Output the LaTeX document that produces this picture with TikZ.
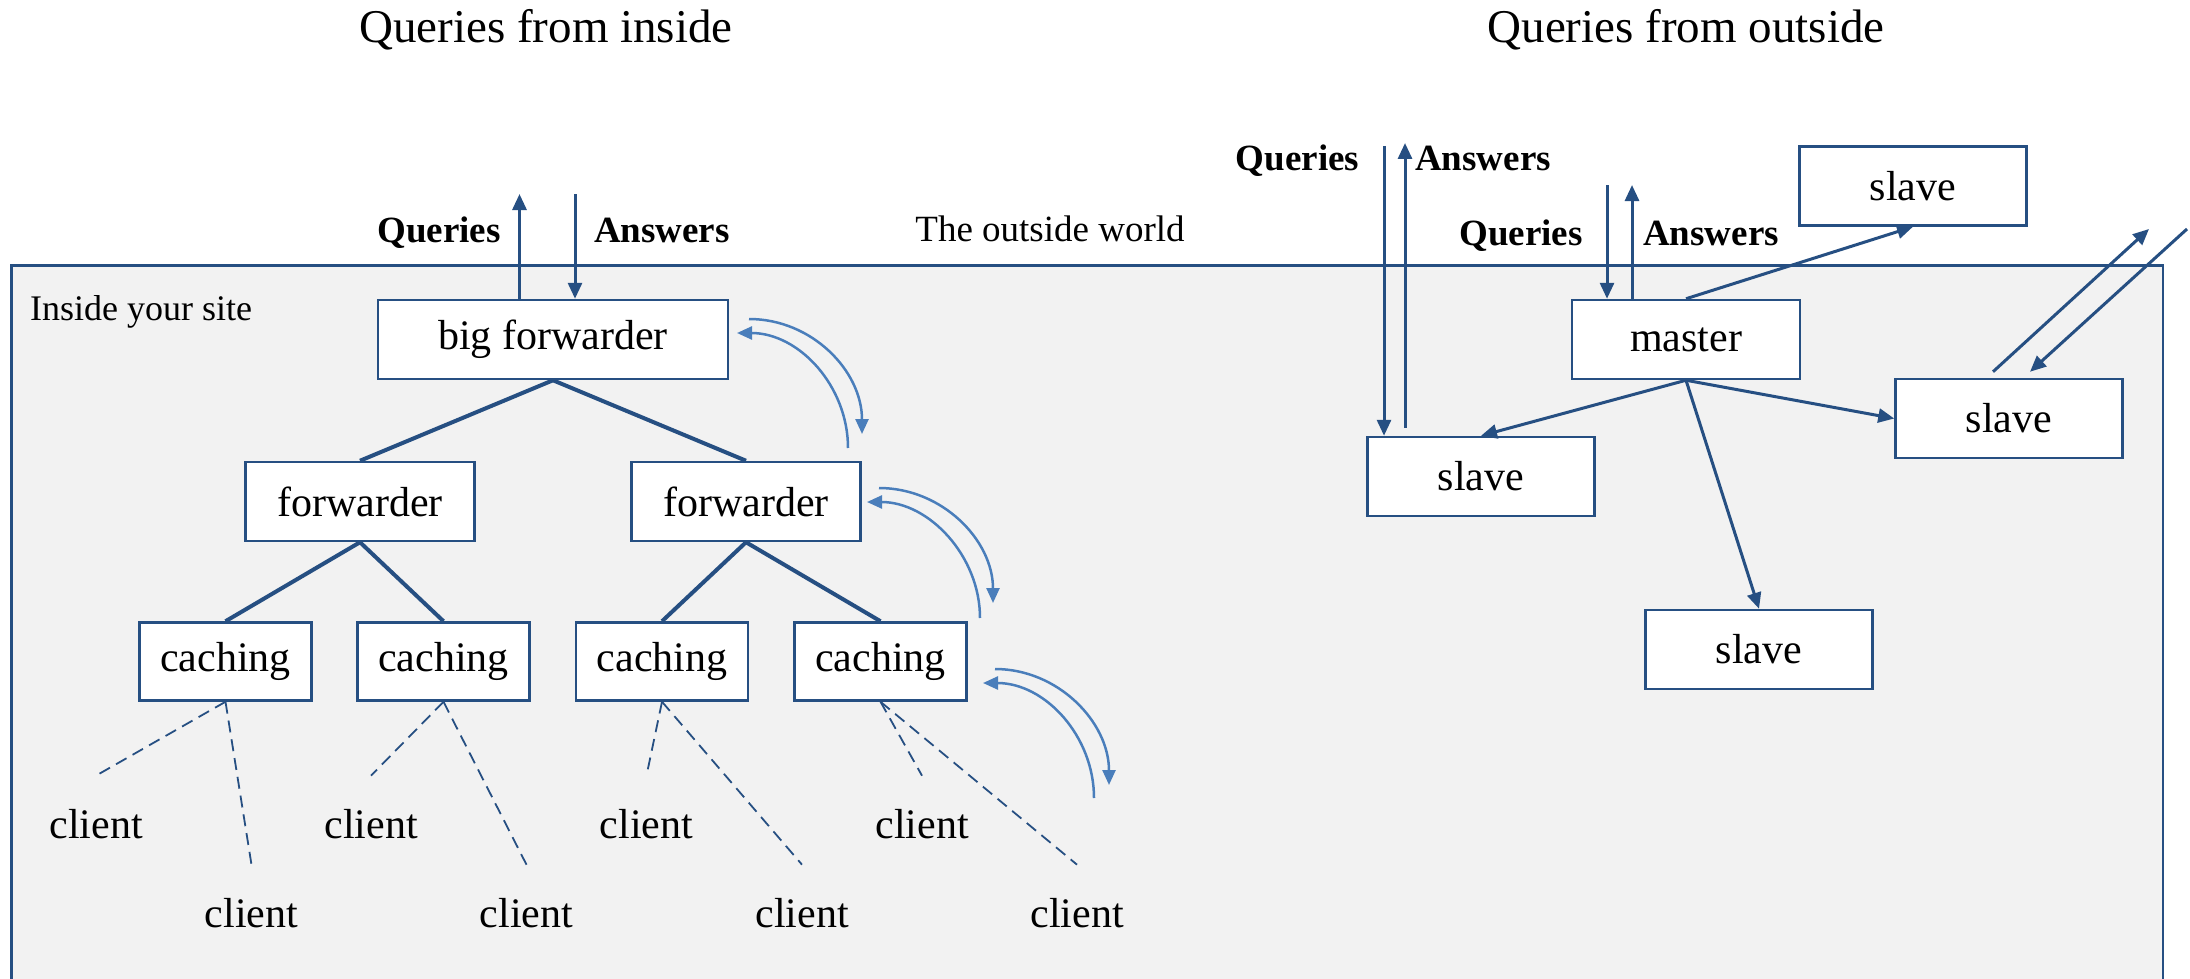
\documentclass[tikz,border=0pt]{standalone}
\usepackage{fontspec}
\setmainfont{Liberation Serif}
\usetikzlibrary{arrows.meta}
\definecolor{linkblue}{HTML}{264F82}
\definecolor{arcblue}{HTML}{4A7EBB}
\definecolor{sitegray}{HTML}{F2F2F2}
\begin{document}
\begin{tikzpicture}[x=1pt,y=-1pt,
	box/.style={draw=linkblue, line width=2.5pt, fill=white, minimum height=79pt, inner sep=0pt, font=\fontsize{42}{50}\selectfont},
	client/.style={anchor=base, inner sep=0pt, font=\fontsize{42}{50}\selectfont},
	tree/.style={draw=linkblue, line width=4pt},
	clientlink/.style={draw=linkblue, line width=1.8pt, dash pattern=on 12pt off 7pt},
	flow/.style={draw=linkblue, line width=3pt, -{Triangle[length=16pt,width=14pt]}},
	reply/.style={draw=arcblue, line width=2.5pt, -{Triangle[length=15pt,width=13pt]}},
	qa/.style={anchor=base, font=\fontsize{37}{44}\selectfont\bfseries},
	heading/.style={anchor=base, font=\fontsize{47}{56}\selectfont}]
	\useasboundingbox (0,0) rectangle (2190,979);
	\filldraw[fill=sitegray, draw=linkblue, line width=2.5pt] (11.5,979) -- (11.5,265.7) -- (2163,265.7) -- (2163,979);

	\node[heading] (ttlin) at (546,43) {Queries from inside};
	\node[heading] (ttlout) at (1686,43) {Queries from outside};
	\node[anchor=base, font=\fontsize{37}{44}\selectfont] (world) at (1050,241) {The outside world};
	\node[anchor=base west, inner sep=0pt, font=\fontsize{36}{43}\selectfont] (site) at (30,320) {Inside your site};

	\node[box, minimum width=350pt] (bigfwd) at (553,339.5) {big forwarder};
	\node[box, minimum width=229pt] (fwdl) at (360,501.5) {forwarder};
	\node[box, minimum width=229pt] (fwdr) at (746,501.5) {forwarder};
	\node[box, minimum width=172pt, minimum height=78pt] (cach1) at (225.5,661.5) {caching};
	\node[box, minimum width=172pt, minimum height=78pt] (cach2) at (443.5,661.5) {caching};
	\node[box, minimum width=172pt, minimum height=78pt] (cach3) at (662,661.5) {caching};
	\node[box, minimum width=172pt, minimum height=78pt] (cach4) at (880.5,661.5) {caching};

	\node[client] (cl1) at (96,838) {client};
	\node[client] (cl2) at (251.5,927) {client};
	\node[client] (cl3) at (371,838) {client};
	\node[client] (cl4) at (526.5,927) {client};
	\node[client] (cl5) at (646.5,838) {client};
	\node[client] (cl6) at (802,927) {client};
	\node[client] (cl7) at (922,838) {client};
	\node[client] (cl8) at (1077,927) {client};

	\draw[tree] (bigfwd.south) -- (fwdl.north);
	\draw[tree] (bigfwd.south) -- (fwdr.north);
	\draw[tree] (fwdl.south) -- (cach1.north);
	\draw[tree] (fwdl.south) -- (cach2.north);
	\draw[tree] (fwdr.south) -- (cach3.north);
	\draw[tree] (fwdr.south) -- (cach4.north);

	\draw[clientlink] (cach1.south) -- ([yshift=33pt]cl1.north);
	\draw[clientlink] (cach1.south) -- ([yshift=33pt]cl2.north);
	\draw[clientlink] (cach2.south) -- ([yshift=33pt]cl3.north);
	\draw[clientlink] (cach2.south) -- ([yshift=33pt]cl4.north);
	\draw[clientlink] (cach3.south) -- ([yshift=33pt]cl5.north);
	\draw[clientlink] (cach3.south) -- ([yshift=33pt]cl6.north);
	\draw[clientlink] (cach4.south) -- ([yshift=33pt]cl7.north);
	\draw[clientlink] (cach4.south) -- ([yshift=33pt]cl8.north);

	\coordinate (qout) at (519.5,194);
	\coordinate (ain) at (575,194);
	\draw[flow] ([xshift=-33.5pt]bigfwd.north) -- (qout);
	\draw[flow] (ain) -- ([xshift=22pt]bigfwd.north);
	\node[qa] (qin) at (439,242) {Queries};
	\node[qa] (ansin) at (662,242) {Answers};

	\draw[reply] (749,319) .. controls (812,319) and (862,371) .. (862,434);
	\draw[reply] (848,448) .. controls (848,386) and (799,333) .. (737,333);
	\draw[reply] (879,488) .. controls (942,488) and (993,540) .. (993,603);
	\draw[reply] (980,618) .. controls (980,556) and (929,502) .. (867,502);
	\draw[reply] (995,669) .. controls (1058,669) and (1109,722) .. (1109,785);
	\draw[reply] (1094,798) .. controls (1094,736) and (1045,683) .. (983,683);

	\node[box, minimum width=228pt] (master) at (1686,339.5) {master};
	\node[box, minimum width=227pt] (slavetop) at (1913,186) {slave};
	\node[box, minimum width=227pt] (slaveright) at (2009,418.5) {slave};
	\node[box, minimum width=227pt] (slaveleft) at (1481,476.5) {slave};
	\node[box, minimum width=227pt] (slavebottom) at (1759,649.5) {slave};

	\draw[flow] (master.north) -- (slavetop.south);
	\draw[flow] (master.south) -- (slaveleft.north);
	\draw[flow] (master.south) -- (slaveright.west);
	\draw[flow] (master.south) -- (slavebottom.north);

	\coordinate (q1top) at (1384,146);
	\coordinate (a1top) at (1405,143);
	\coordinate (q2top) at (1607,185);
	\coordinate (a2top) at (1632,185);
	\draw[flow] (q1top) -- ([xshift=-97pt]slaveleft.north);
	\draw[flow] ([xshift=-76pt,yshift=8pt]slaveleft.north) -- (a1top);
	\draw[flow] (q2top) -- ([xshift=-79pt]master.north);
	\draw[flow] ([xshift=-54pt]master.north) -- (a2top);
	\node[qa] (qout1) at (1297.5,171) {Queries};
	\node[qa] (ansout1) at (1483,171) {Answers};
	\node[qa] (qout2) at (1521,245) {Queries};
	\node[qa] (ansout2) at (1711,245) {Answers};

	\coordinate (upfar) at (2149,229);
	\coordinate (downfar) at (2187,229);
	\draw[flow] ([xshift=-16pt,yshift=6pt]slaveright.north) -- (upfar);
	\draw[flow] (downfar) -- ([xshift=21pt,yshift=6pt]slaveright.north);
\end{tikzpicture}
\end{document}
